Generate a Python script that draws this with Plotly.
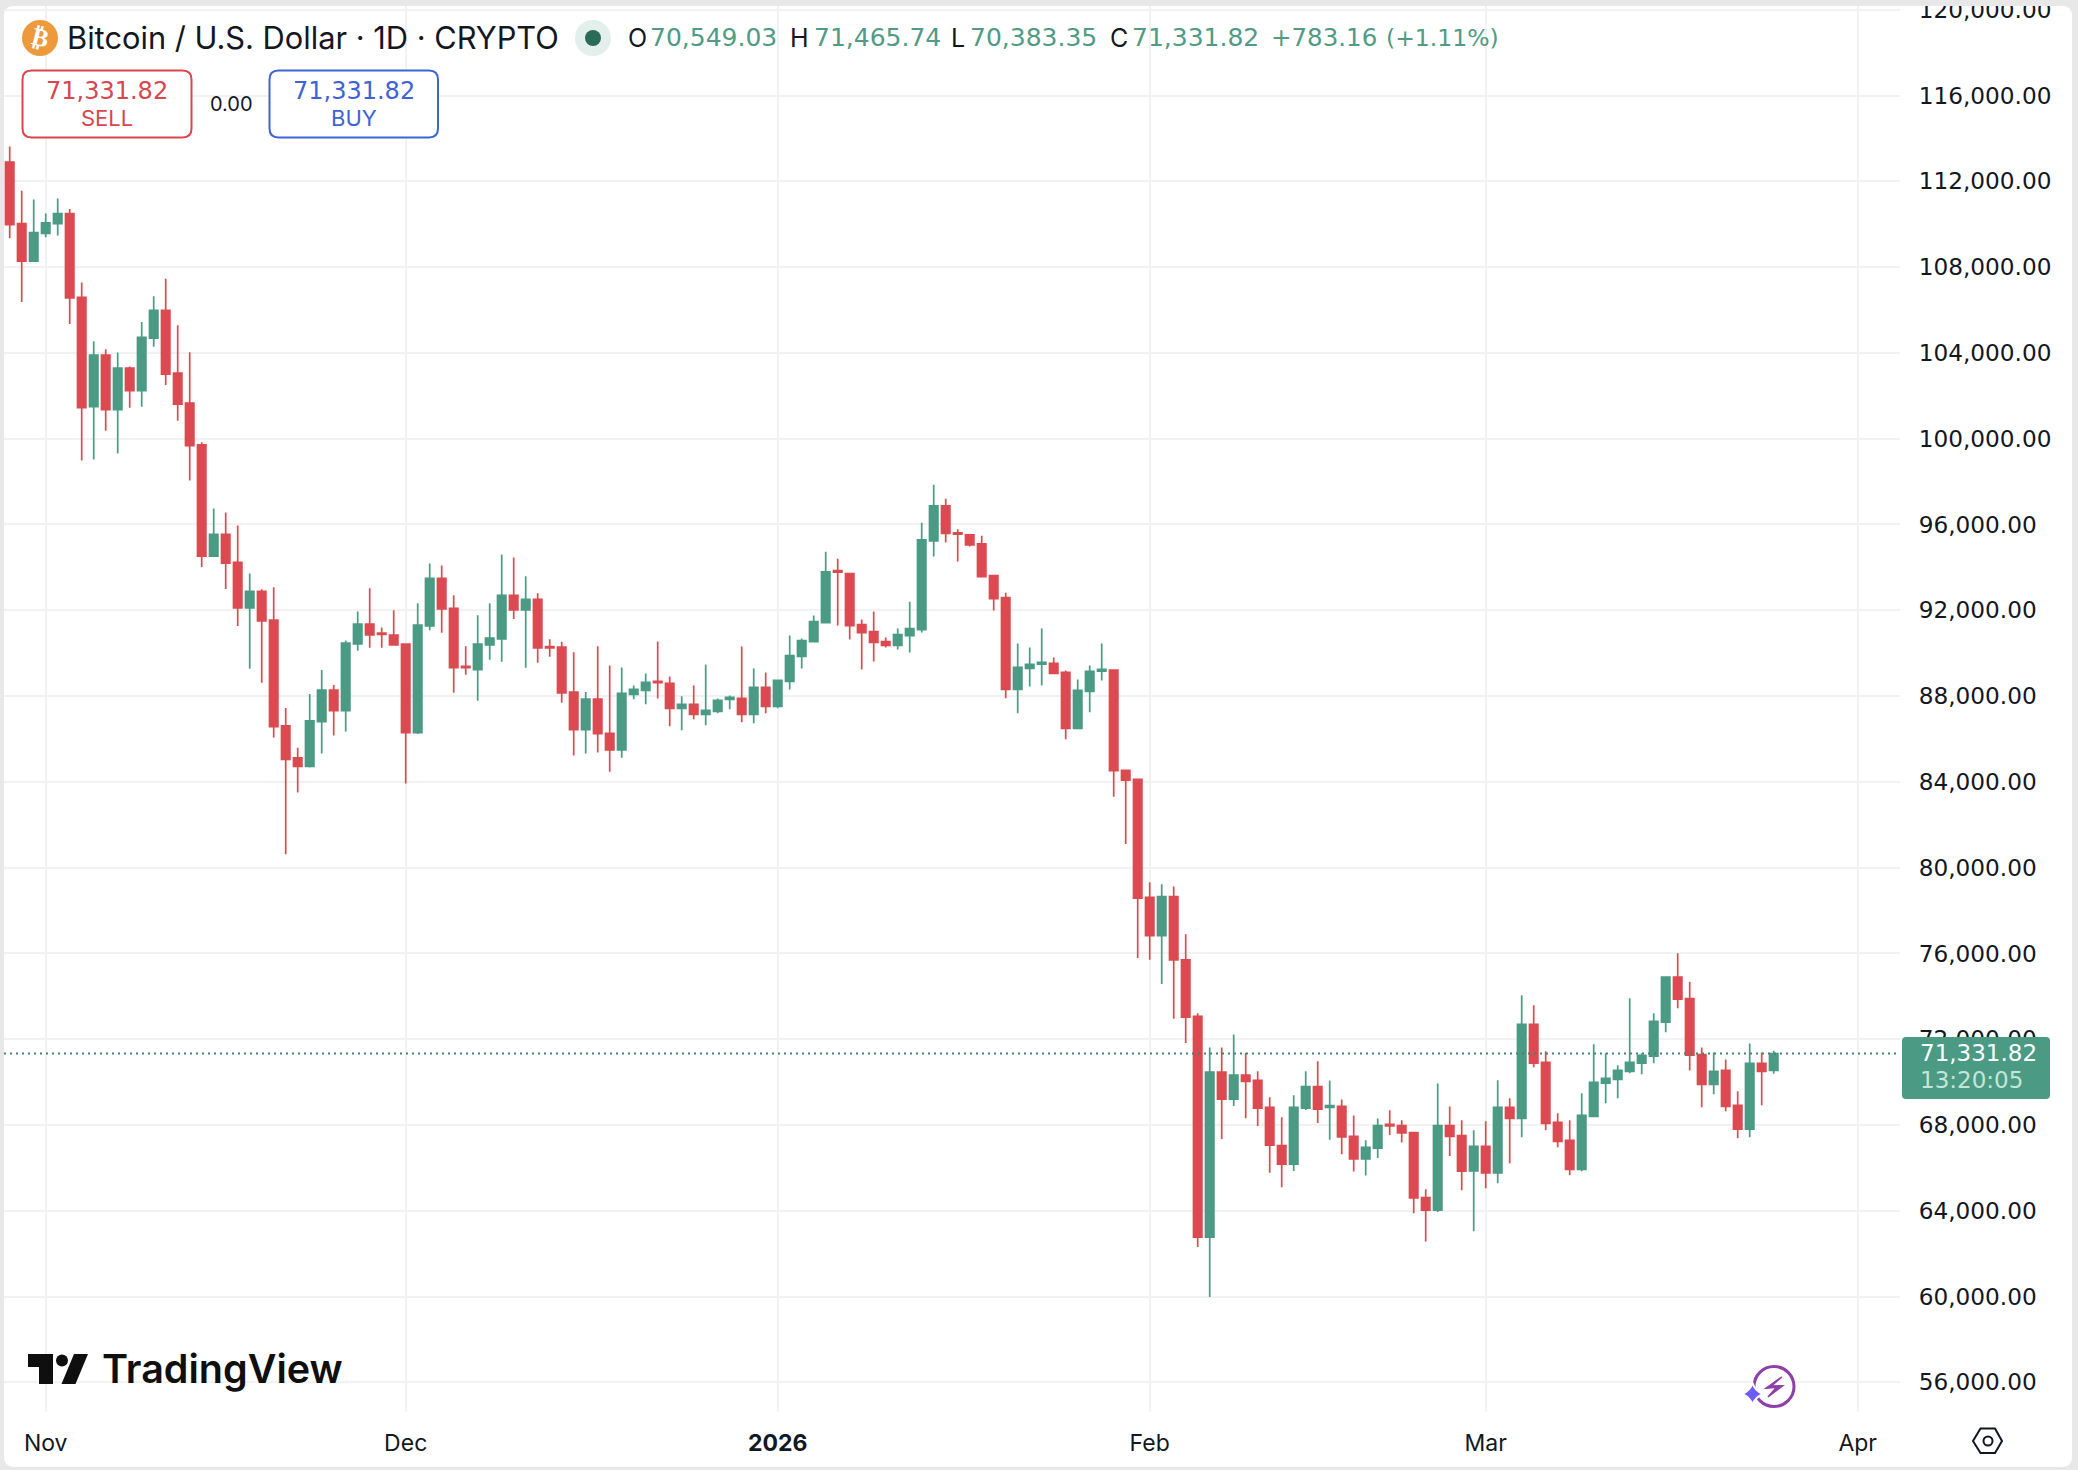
import pandas as pd
import plotly.graph_objects as go

W, H = 2078, 1470
# plot area in page pixels
LEFT, RIGHT, TOP, BOTTOM = 4, 1900, 6, 1412

FONT = "Inter"
NUM_FONT = "DejaVu Sans"  # digits in the original are tabular
INK = "#131722"
GREEN = "#4a9a84"
RED = "#dc4a51"
GRID = "#f2f2f2"
BACK = "#e8e8e8"

opens = [
    112900, 110032, 108281,
    109568, 110032, 110497, 106591, 101492, 103895, 101352, 103290, 102236, 104685,
    105987, 103058, 101663, 99710, 94527, 95535, 94233, 92110, 92885, 91536,
    86607, 85119, 84716, 86809, 88281, 87320, 90435, 91350, 90930, 90838,
    90420, 86297, 91272, 93489, 92094, 89380, 89226, 90389, 90668, 92698,
    92016, 92512, 90310, 90280, 88188, 86435, 87862, 86264, 85489, 88078,
    88264, 88682, 88589, 87426, 87612, 87147, 87287, 87845, 87891, 87147, 88403,
    87520, 88682, 89845, 90542, 91426, 93844, 93704, 91333, 91007, 90542,
    90356, 90821, 91100, 95238, 96871, 95611, 95518, 95098, 93611, 92588,
    88310, 89287, 89488, 89519, 89100, 86497, 88217, 89162, 89214, 84541, 84116,
    78613, 76833, 78654, 75700, 73070, 62773, 70460, 69206, 70319, 70076,
    68822, 67042, 66172, 68781, 69792, 68822, 68863, 67466, 66414, 66920,
    68033, 67972, 67648, 64614, 64027, 67972, 67507, 65854,
    67005, 65761, 68824, 68311, 72696, 70923, 68124, 67285, 65932, 68404,
    69944, 70130, 70503, 70877, 71203, 72789, 74889, 73890, 71286, 69891,
    70542, 68915, 67799, 70868, 70549.03,
]
highs = [
    113628, 111567, 111150,
    110497, 111195, 110714, 107289, 104545, 104173, 104019, 103367, 105445, 106638,
    107460, 105290, 104034, 99834, 96744, 96558, 95953, 93720, 92978, 93070,
    87444, 85584, 88095, 89211, 88513, 90590, 91939, 93024, 91195, 92001,
    90420, 92328, 94186, 94093, 92700, 90327, 91769, 92328, 94605, 94465,
    93582, 92790, 90650, 90528, 90048, 88188, 90327, 89426, 89333, 88496,
    89054, 90542, 88914, 87985, 88496, 89472, 87891, 88031, 90310, 89287, 89101,
    88775, 90821, 90682, 91751, 94727, 94402, 93704, 91565, 91937, 90728,
    91147, 92402, 96078, 97850, 97197, 95782, 95565, 95471, 93611, 92821,
    90449, 90263, 91147, 89798, 89194, 88775, 89426, 90449, 89234, 84580, 84116,
    79321, 79220, 79119, 76894, 73212, 71614, 71614, 72221, 71351, 70501,
    69287, 68356, 69389, 70501, 70966, 70076, 69186, 68438, 67284, 68296,
    68680, 68215, 67648, 64999, 69935, 68863, 68215, 67751,
    68171, 70084, 69244, 74049, 73582, 71437, 68544, 68218, 69477, 71763,
    71343, 70783, 73909, 71343, 73209, 74935, 76008, 74680, 71612, 71379,
    71054, 69566, 71798, 71380, 71465.74,
]
lows = [
    109350, 106375, 108281,
    109397, 109475, 105352, 98981, 99027, 100376, 99306, 101445, 101492, 104282,
    102500, 100841, 98051, 94016, 94527, 92993, 91272, 89273, 88622, 86065,
    80624, 83507, 84669, 85320, 86158, 86344, 90110, 90250, 90250, 90389,
    83925, 86235, 91071, 90947, 88157, 88994, 87785, 89692, 89600, 91598,
    89320, 89552, 89831, 87692, 85225, 85320, 85367, 84466, 85117, 87845,
    87612, 87891, 86590, 86404, 86915, 86636, 87194, 87380, 86775, 86729, 87194,
    87427, 88310, 89287, 90542, 91426, 91286, 90635, 89240, 89612, 90263,
    90170, 90031, 90961, 94507, 95160, 94274, 94974, 93565, 91984, 87892,
    87194, 88450, 88496, 89054, 85985, 86450, 87240, 88728, 83307, 81102, 75781,
    75700, 74567, 72949, 71816, 62308, 59981, 67345, 68882, 68316, 67952,
    65767, 65100, 65848, 68700, 68094, 67305, 66637, 65828, 65646, 66455,
    67527, 67183, 63886, 62570, 63946, 66556, 64958, 63040,
    65046, 65279, 66212, 67425, 70690, 67751, 66958, 65652, 65839, 68404,
    69011, 69244, 70410, 70364, 70877, 72323, 73443, 70542, 68822, 69426,
    68636, 67380, 67427, 68915, 70383.35,
]
closes = [
    109986, 108281, 109614,
    110064, 110497, 106560, 101445, 103895, 101352, 103290, 102236, 104731, 105987,
    103011, 101616, 99678, 94527, 95535, 94202, 92110, 92885, 91505, 86576,
    85042, 84716, 86840, 88281, 87320, 90466, 91350, 90854, 90870, 90389,
    86297, 91304, 93489, 92063, 89320, 89320, 90420, 90699, 92698, 92016,
    92512, 90250, 90250, 88141, 86435, 87862, 86250, 85489, 88124, 88310,
    88636, 88620, 87426, 87612, 87147, 87333, 87798, 87938, 87147, 88403, 87520,
    88729, 89891, 90589, 91472, 93797, 93782, 91286, 90961, 90496, 90356,
    90868, 91147, 95285, 96871, 95580, 95549, 95051, 93565, 92542, 88310,
    89333, 89473, 89566, 89054, 86497, 88264, 89147, 89240, 84520, 84075, 78573,
    76833, 78654, 75700, 73030, 62773, 70460, 69206, 70319, 70036, 68781,
    67062, 66172, 68822, 69792, 68741, 68903, 67446, 66414, 66961, 67972,
    67952, 67628, 64594, 64027, 67972, 67466, 65848, 67005,
    65761, 68824, 68311, 72696, 70877, 68078, 67238, 65932, 68451, 69990,
    70177, 70550, 70923, 71250, 72836, 74889, 73862, 71255, 69891, 70496,
    68868, 67799, 70868, 70496, 71331.82,
]
assert len(opens) == len(highs) == len(lows) == len(closes) == 148

dates = pd.date_range("2025-10-29", periods=len(closes))

month_ticks = ["2025-11-01", "2025-12-01", "2026-01-01", "2026-02-01", "2026-03-01", "2026-04-01"]
month_labels = ["Nov", "Dec", "<b>2026</b>", "Feb", "Mar", "Apr"]
price_ticks = list(range(56000, 124000, 4000))

ohlc_labels = ["O", "H", "L", "C"]
ohlc_values = ["70,549.03", "71,465.74", "70,383.35", "71,331.82"]
ohlc_label_x = [627, 789, 950, 1109]
ohlc_value_x = [649, 813, 969, 1131]


def px(x):
    return (x - LEFT) / (RIGHT - LEFT)


def py(y):
    return (BOTTOM - y) / (BOTTOM - TOP)


def path(points, close=True):
    s = "M" + " L".join(f"{px(x):.5f},{py(y):.5f}" for x, y in points)
    return s + (" Z" if close else "")


def rounded(x0, y0, x1, y1, r):
    return (
        f"M{px(x0 + r):.5f},{py(y0):.5f} L{px(x1 - r):.5f},{py(y0):.5f} "
        f"Q{px(x1):.5f},{py(y0):.5f} {px(x1):.5f},{py(y0 + r):.5f} "
        f"L{px(x1):.5f},{py(y1 - r):.5f} Q{px(x1):.5f},{py(y1):.5f} {px(x1 - r):.5f},{py(y1):.5f} "
        f"L{px(x0 + r):.5f},{py(y1):.5f} Q{px(x0):.5f},{py(y1):.5f} {px(x0):.5f},{py(y1 - r):.5f} "
        f"L{px(x0):.5f},{py(y0 + r):.5f} Q{px(x0):.5f},{py(y0):.5f} {px(x0 + r):.5f},{py(y0):.5f} Z"
    )


def dot(cx, cy, r, fill, line=None, width=0):
    return dict(type="circle", xref="paper", yref="paper",
                x0=px(cx - r), x1=px(cx + r), y0=py(cy + r), y1=py(cy - r),
                fillcolor=fill, line=dict(color=line or fill, width=width), layer="above")


def shape_path(d, fill="rgba(0,0,0,0)", line=None, width=0, layer="above"):
    return dict(type="path", xref="paper", yref="paper", path=d, fillcolor=fill,
                line=dict(color=line or fill, width=width), layer=layer)


def label(x, y, text, size, color=INK, anchor="left", weight=400, family=FONT, angle=0):
    return dict(xref="paper", yref="paper", x=px(x), y=py(y), text=text, showarrow=False,
                xanchor=anchor, yanchor="middle", borderpad=0, textangle=angle,
                font=dict(family=family, size=size, color=color, weight=weight))


fig = go.Figure()

fig.add_trace(go.Candlestick(
    x=dates, open=opens, high=highs, low=lows, close=closes,
    increasing=dict(line=dict(color=GREEN, width=1.7), fillcolor=GREEN),
    decreasing=dict(line=dict(color=RED, width=1.7), fillcolor=RED),
    hoverinfo="skip", showlegend=False,
))

shapes = [
    # white card on the grey page
    shape_path(rounded(4, 6, 2072, 1467, 10), fill="white", layer="below"),
    # strip that clips the top tick label
    shape_path(path([(0, 0), (2078, 0), (2078, 6), (0, 6)]), fill=BACK),
    # last price line
    dict(type="line", xref="paper", yref="y", x0=0, x1=1, y0=closes[-1], y1=closes[-1],
         line=dict(color="#3f8573", width=2, dash="2px,4px"), layer="above"),
    # last price tag
    shape_path(rounded(1902, 1037, 2050, 1099, 4), fill=GREEN),
    # header icons
    dot(40, 38, 18, "#ec9a3c"),
    dot(593, 38, 18, "#e3efeb"),
    dot(593, 38, 8, "#2a6b58"),
    # sell and buy boxes
    shape_path(rounded(22.5, 70.5, 191.5, 137.5, 9), fill="white", line="#d8474d", width=2),
    shape_path(rounded(269.5, 70.5, 438, 137.5, 9), fill="white", line="#3d63d6", width=2),
    # TradingView mark
    shape_path(path([(28, 1354), (53, 1354), (53, 1384), (39, 1384), (39, 1367), (28, 1367)]), fill="#0f0f0f"),
    dot(62, 1360.5, 6, "#0f0f0f"),
    shape_path(path([(74, 1354), (88, 1354), (75.5, 1384), (61.5, 1384)]), fill="#0f0f0f"),
    # purple badge
    dot(1774, 1386.5, 20, "white", line="#8e3fa8", width=3),
    shape_path(path([(1781.7, 1377), (1766, 1388.3), (1776.5, 1387.3), (1768, 1397),
                     (1782.7, 1385.7), (1771.5, 1386)]), fill="#8e3fa8", line="#8e3fa8", width=1.5),
    shape_path(
        f"M{px(1752.5):.5f},{py(1383):.5f} Q{px(1755):.5f},{py(1391):.5f} {px(1763):.5f},{py(1394):.5f} "
        f"Q{px(1755):.5f},{py(1397):.5f} {px(1752.5):.5f},{py(1405):.5f} "
        f"Q{px(1750):.5f},{py(1397):.5f} {px(1742):.5f},{py(1394):.5f} "
        f"Q{px(1750):.5f},{py(1391):.5f} {px(1752.5):.5f},{py(1383):.5f} Z",
        fill="#6f5cf6", line="white", width=2),
    # settings icon
    shape_path(path([(1973, 1441), (1980.5, 1428.5), (1995, 1428.5), (2002, 1441),
                     (1995, 1453), (1980.5, 1453)]), fill="white", line=INK, width=2),
    dot(1988, 1441, 4.5, "white", line=INK, width=2),
]

annotations = [
    label(40, 38, "₿", 25, color="white", anchor="center", weight=700, family="DejaVu Sans", angle=14),
    label(66, 38, "Bitcoin / U.S. Dollar · 1D · CRYPTO", 30.8),
    label(107, 91, "71,331.82", 24, color="#d8474d", anchor="center", family=NUM_FONT),
    label(107, 118, "SELL", 22, color="#d8474d", anchor="center"),
    label(231, 104, "0.00", 20, anchor="center"),
    label(354, 91, "71,331.82", 24, color="#3d63d6", anchor="center", family=NUM_FONT),
    label(354, 118, "BUY", 22, color="#3d63d6", anchor="center"),
    label(1270, 38, "+783.16", 24.5, color="#4f9b84", family=NUM_FONT),
    label(1385, 38, "(+1.11%)", 23.5, color="#4f9b84", family=NUM_FONT),
    label(1919, 1053, f"{closes[-1]:,.2f}", 23, color="white", family=NUM_FONT),
    label(1919, 1080, "13:20:05", 23, color="#c5e5d8", family=NUM_FONT),
    label(101, 1369, "TradingView", 39.5, color="#0f0f0f", weight=600),
]
for name, value, x_name, x_value in zip(ohlc_labels, ohlc_values, ohlc_label_x, ohlc_value_x):
    annotations.append(label(x_name, 38, name, 25))
    annotations.append(label(x_value, 38, value, 25, color="#4f9b84", family=NUM_FONT))

fig.update_layout(
    width=W, height=H,
    margin=dict(l=LEFT, r=W - RIGHT, t=TOP, b=H - BOTTOM, pad=0),
    paper_bgcolor=BACK,
    plot_bgcolor="rgba(0,0,0,0)",
    showlegend=False,
    boxgap=0.3, boxgroupgap=0,
    font=dict(family=FONT, size=23, color=INK),
    shapes=shapes,
    annotations=annotations,
)
fig.update_xaxes(
    type="date",
    automargin=False,
    range=["2025-10-28 12:36", "2026-04-04 12:36"],
    rangeslider_visible=False,
    tickvals=month_ticks, ticktext=month_labels,
    ticks="outside", ticklen=10, tickcolor="rgba(0,0,0,0)",
    showgrid=True, gridcolor=GRID, gridwidth=1.6,
    showline=False, zeroline=False,
)
fig.update_yaxes(
    side="right",
    automargin=False,
    range=[56000 + (1382.3 - BOTTOM) * 46.63, 56000 + (1382.3 - TOP) * 46.63],
    tickvals=price_ticks, tickformat=",.2f",
    tickfont=dict(family=NUM_FONT, size=23.2),
    ticklabeloverflow="allow",
    ticks="outside", ticklen=13, tickcolor="rgba(0,0,0,0)",
    showgrid=True, gridcolor=GRID, gridwidth=1.6,
    showline=False, zeroline=False,
)

fig.write_html(
    "out.html",
    config={"displayModeBar": False},
    post_script="document.body.style.margin='0';document.body.style.overflow='hidden';",
)
